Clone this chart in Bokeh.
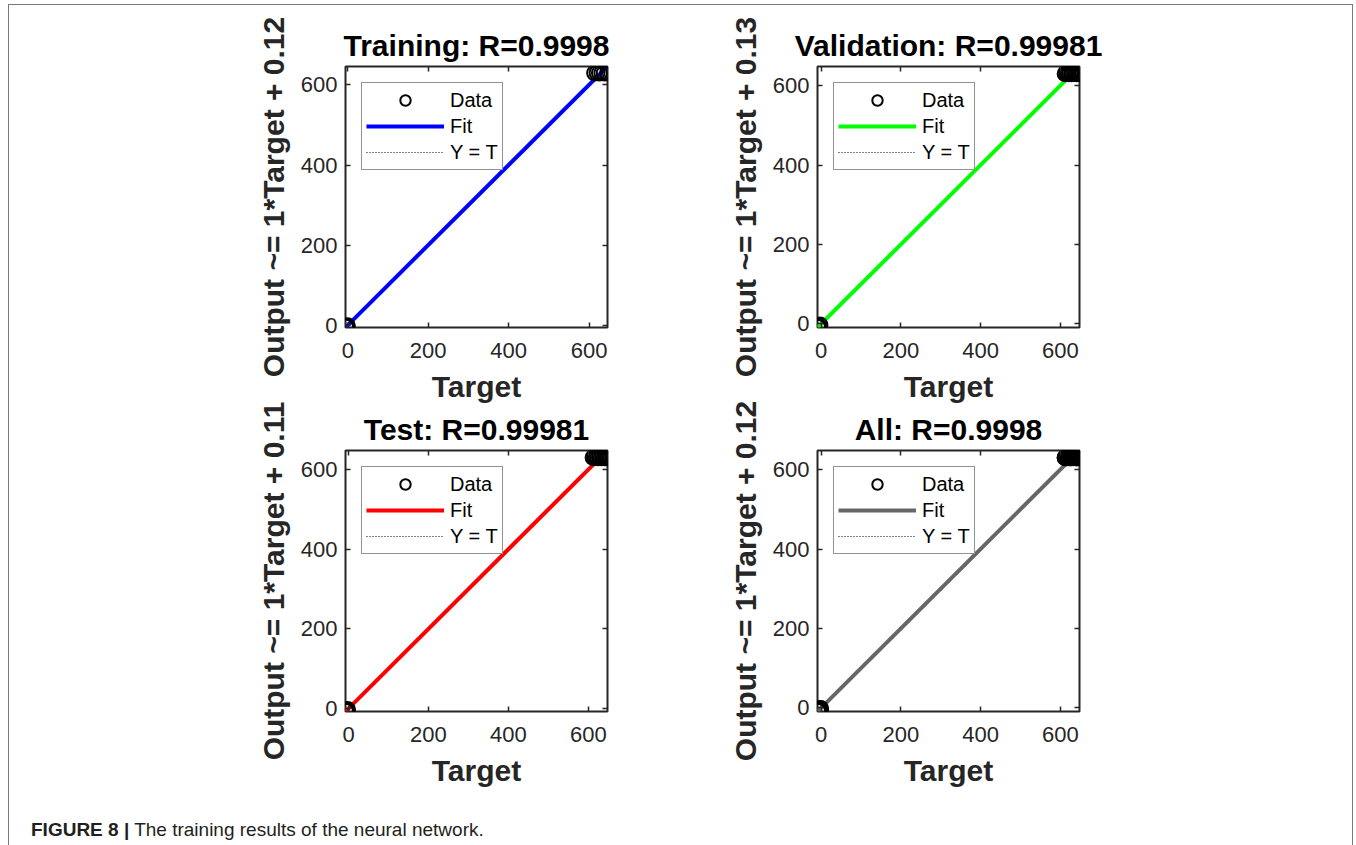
from bokeh.plotting import figure
from bokeh.models import Range1d, Legend, LegendItem, LinearAxis, FixedTicker, Div
from bokeh.layouts import column, row
from bokeh.embed import file_html
from bokeh.resources import INLINE

# Regression summary for each subset
panel_names = ["Training", "Validation", "Test", "All"]
panel_r = ["0.9998", "0.99981", "0.99981", "0.9998"]
fit_slope = [1, 1, 1, 1]
fit_offset = [0.12, 0.13, 0.11, 0.12]
fit_colors = ["#0000ff", "#00ff00", "#ff0000", "#666666"]
tick_values = [0, 200, 400, 600]

# Targets and network outputs per subset
train_target = [-5.8, -3.6, -1.2, 614, 620, 626, 632, 638, 646]
train_output = [-4.7, -3.0, -1.5, 629.6, 630.2, 630.0, 630.4, 629.8, 630.3]
val_target = [-9.0, -6.5, -3.0, 612, 616, 620, 624, 628, 632, 636, 640, 644, 648]
val_output = [-8.2, -5.9, -2.6, 629.5, 630.4, 629.8, 630.6, 629.7, 630.3, 630.1, 629.6, 630.5, 630.0]
test_target = [-7.5, -5.0, -2.5, 612, 616, 620, 624, 628, 632, 636, 640, 644, 648]
test_output = [-6.8, -4.6, -2.2, 630.2, 629.6, 630.5, 629.9, 630.3, 629.7, 630.4, 630.0, 629.8, 630.1]
all_target = train_target + val_target + test_target
all_output = train_output + val_output + test_output

FONT = "Liberation Sans"
INK = "#262626"


def make_panel(i, t, y, border_left, border_right, border_top, border_bottom):
    lo = min(min(t), min(y))
    hi = max(max(t), max(y))
    ylabel = f"Output ~= {fit_slope[i]}*Target + {fit_offset[i]}"
    p = figure(
        frame_width=262, frame_height=261,
        min_border_left=border_left, min_border_right=border_right,
        min_border_top=border_top, min_border_bottom=border_bottom,
        x_range=Range1d(lo, hi), y_range=Range1d(lo, hi),
        x_axis_label="Target", y_axis_label=ylabel,
        output_backend="svg", toolbar_location=None,
        background_fill_color="white", border_fill_color=None,
    )
    p.title.text = f"{panel_names[i]}: R={panel_r[i]}"
    p.title.text_font = FONT
    p.title.text_font_size = "30px"
    p.title.text_font_style = "bold"
    p.title.text_color = "black"
    p.title.align = "center"
    p.title.standoff = 10

    p.xgrid.visible = False
    p.ygrid.visible = False
    p.outline_line_color = INK
    p.outline_line_width = 2
    p.outline_line_alpha = 1

    for ax in (p.xaxis[0], p.yaxis[0]):
        ax.ticker = FixedTicker(ticks=tick_values)
        ax.minor_tick_line_color = None
        ax.major_tick_in = 5
        ax.major_tick_out = 0
        ax.major_tick_line_color = INK
        ax.major_tick_line_width = 1.5
        ax.axis_line_color = None
        ax.major_label_text_font = FONT
        ax.major_label_text_font_size = "22px"
        ax.major_label_text_color = INK
        ax.axis_label_text_font = FONT
        ax.axis_label_text_font_size = "30px"
        ax.axis_label_text_font_style = "bold"
        ax.axis_label_text_color = INK
    p.xaxis[0].major_label_standoff = 15
    p.xaxis[0].axis_label_standoff = 9
    p.yaxis[0].major_label_standoff = 8
    p.yaxis[0].axis_label_standoff = 8

    # tick marks on the opposite sides of the box
    for side in ("above", "right"):
        ax = LinearAxis(
            ticker=FixedTicker(ticks=tick_values),
            major_label_text_font_size="0px", major_label_standoff=0,
            major_tick_in=5, major_tick_out=0,
            major_tick_line_color=INK, major_tick_line_width=1.5,
            minor_tick_line_color=None, axis_line_color=None,
        )
        p.add_layout(ax, side)

    ident = p.line([lo, hi], [lo, hi], line_color="black", line_width=1,
                   line_dash="1 2")
    fx = [lo, hi]
    fy = [fit_slope[i] * v + fit_offset[i] for v in fx]
    fit = p.line(fx, fy, line_color=fit_colors[i], line_width=4)
    data = p.scatter(t, y, marker="circle", size=15, fill_color=None,
                     line_color="black", line_width=2)

    legend = Legend(
        items=[LegendItem(label="Data", renderers=[data]),
               LegendItem(label="Fit", renderers=[fit]),
               LegendItem(label="Y = T", renderers=[ident])],
        location="top_left", margin=16, padding=4, spacing=0,
        glyph_width=78, glyph_height=26, label_height=26, label_standoff=6,
        label_text_font=FONT, label_text_font_size="20px", label_text_color="black",
        border_line_color=INK, border_line_width=1.5,
        background_fill_color="white", background_fill_alpha=1,
    )
    p.add_layout(legend)
    return p


x0 = 9
left_w = (345 - x0) + 262 + 40
f1 = make_panel(0, train_target, train_output, 345 - x0, 40, 61, 90)
f2 = make_panel(1, val_target, val_output, 817 - (x0 + left_w), 60, 61, 90)
f3 = make_panel(2, test_target, test_output, 345 - x0, 40, 50, 90)
f4 = make_panel(3, all_target, all_output, 817 - (x0 + left_w), 60, 50, 90)

caption = Div(
    text='<span style="font-weight:bold">FIGURE 8 |</span> The training results of the neural network.',
    width=1000, height=40,
    styles={"font-family": FONT, "font-size": "19px", "color": "#231f20",
            "padding-left": "17px", "padding-top": "10px"},
)

layout = column(
    row(f1, f2), row(f3, f4, margin=(-17, 0, 0, 0)), caption,
    width=1345, height=841, margin=(4, 0, 0, 8),
    styles={"border-top": "1.5px solid #7a7a7a", "border-left": "1.5px solid #7a7a7a",
            "border-right": "1.5px solid #7a7a7a", "background": "white"},
)

open("out.html", "w").write(file_html(layout, INLINE))
